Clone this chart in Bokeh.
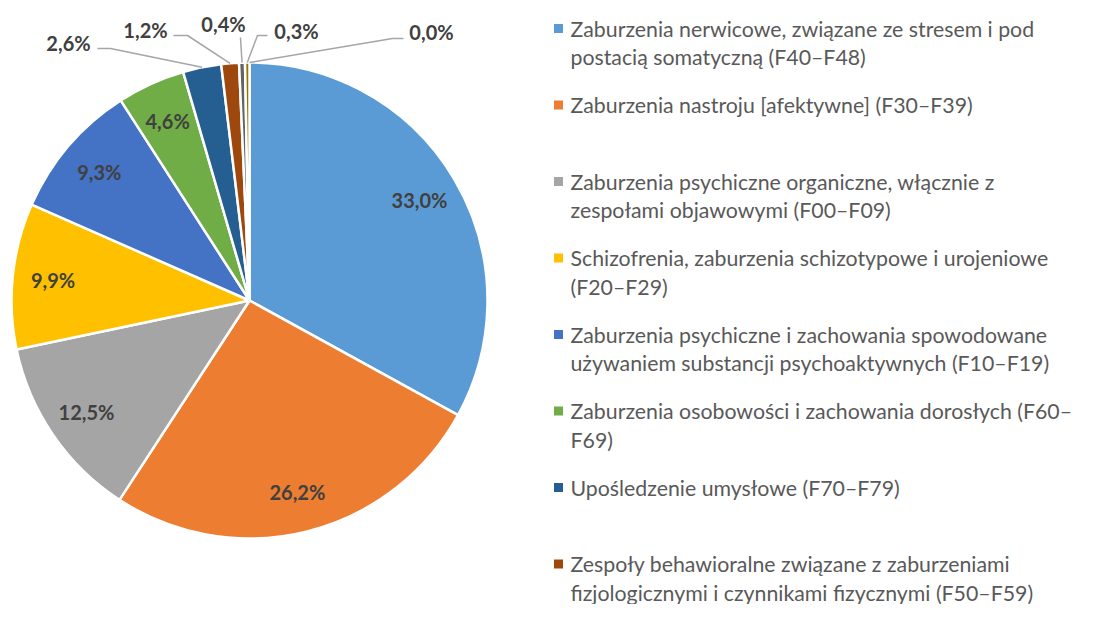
import math
from bokeh.plotting import figure
from bokeh.models import Range1d, ColumnDataSource
from bokeh.core.properties import value
from bokeh.embed import file_html
from bokeh.resources import INLINE

# ---- data ----
shares = [33.0, 26.2, 12.5, 9.9, 9.3, 4.6, 2.6, 1.2, 0.4, 0.3, 0.0]
share_labels = ["33,0%", "26,2%", "12,5%", "9,9%", "9,3%", "4,6%",
                "2,6%", "1,2%", "0,4%", "0,3%", "0,0%"]
colors = ["#5B9BD5", "#ED7D31", "#A5A5A5", "#FFC000", "#4472C4", "#70AD47",
          "#255E91", "#9E480E", "#636363", "#997300", "#264478"]
legend_lines = [
    ["Zaburzenia nerwicowe, związane ze stresem i pod", "postacią somatyczną (F40–F48)"],
    ["Zaburzenia nastroju [afektywne] (F30–F39)"],
    ["Zaburzenia psychiczne organiczne, włącznie z", "zespołami objawowymi (F00–F09)"],
    ["Schizofrenia, zaburzenia schizotypowe i urojeniowe", "(F20–F29)"],
    ["Zaburzenia psychiczne i zachowania spowodowane", "używaniem substancji psychoaktywnych (F10–F19)"],
    ["Zaburzenia osobowości i zachowania dorosłych (F60–", "F69)"],
    ["Upośledzenie umysłowe (F70–F79)"],
    ["Zespoły behawioralne związane z zaburzeniami", "fizjologicznymi i czynnikami fizycznymi (F50–F59)"],
]

# ---- layout ----
W, H = 1079, 604
CX, CY, R = 249, H - 300, 238
FONT = "Lato"

p = figure(width=W, height=H, output_backend="svg", toolbar_location=None,
           x_range=Range1d(0, W), y_range=Range1d(0, H),
           x_axis_location=None, y_axis_location=None, min_border=0)
p.grid.visible = False
p.outline_line_color = None
p.background_fill_color = "white"

total = sum(shares)
starts, ends, mids = [], [], []
cum = 0.0
for v in shares:
    a0 = cum / total
    cum += v
    a1 = cum / total
    starts.append(math.pi / 2 - a0 * 2 * math.pi)
    ends.append(math.pi / 2 - a1 * 2 * math.pi)
    mids.append(math.pi / 2 - (a0 + a1) / 2 * 2 * math.pi)

keep = [i for i, v in enumerate(shares) if v > 0]
src = ColumnDataSource(dict(start=[starts[i] for i in keep],
                            end=[ends[i] for i in keep],
                            color=[colors[i] for i in keep]))
p.wedge(x=CX, y=CY, radius=R, start_angle="start", end_angle="end",
        direction="clock", fill_color="color", line_color="white",
        line_width=2.5, source=src)

# inside labels
n_in = 6
in_x = [CX + 0.83 * R * math.cos(m) for m in mids[:n_in]]
in_y = [CY + 0.83 * R * math.sin(m) for m in mids[:n_in]]
p.text(x=in_x, y=in_y, text=share_labels[:n_in], text_align="center",
       text_baseline="middle", text_font=value(FONT),
       text_font_style="bold", text_font_size="20px", text_color="#404040")

# outside labels: offsets from pie centre (label centre, line end, knee)
out_pos = [(-181, 258), (-104, 271), (-26, 277), (47, 270), (182, 269)]
sides = [(-152, 252), (-76, 265), (-9, 263), (18, 265), (154, 262)]
knees = [(-139, 252), (-62, 265), (-9, 263), (8, 265), (143, 262)]
for i, (lp, sd, kn) in enumerate(zip(out_pos, sides, knees)):
    k = n_in + i
    ex = CX + R * math.cos(mids[k])
    ey = CY + R * math.sin(mids[k])
    p.line(x=[CX + sd[0], CX + kn[0], ex], y=[CY + sd[1], CY + kn[1], ey],
           line_color="#A6A6A6", line_width=1.5)
    p.text(x=[CX + lp[0]], y=[CY + lp[1]], text=[share_labels[k]],
           text_align="center", text_baseline="middle",
           text_font=value(FONT), text_font_style="bold",
           text_font_size="20px", text_color="#404040")

# legend
LX, LY0, STEP, LINE = 558, H - 28, 76.5, 28.5
for i, lines in enumerate(legend_lines):
    y0 = LY0 - i * STEP
    p.rect(x=[LX], y=[y0], width=9, height=9, fill_color=colors[i], line_color=None)
    for j, t in enumerate(lines):
        p.text(x=[LX + 12], y=[y0 - j * LINE], text=[t], text_align="left",
               text_baseline="middle", text_font=value(FONT),
               text_font_size="21.3px", text_color="#595959")

open("out.html", "w").write(file_html(p, INLINE))
